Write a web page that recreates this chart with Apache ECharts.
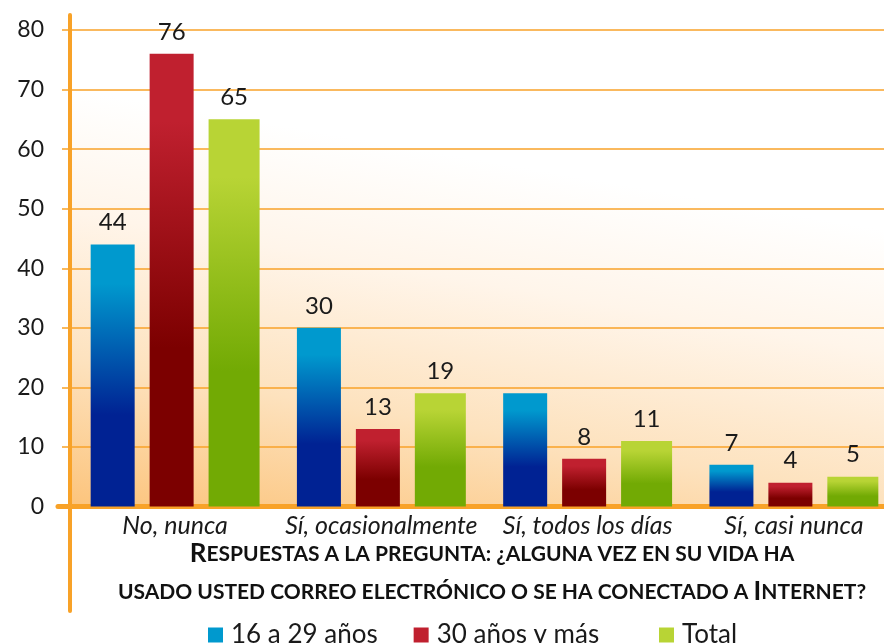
<!DOCTYPE html>
<html>
<head>
<meta charset="utf-8">
<script src="https://cdn.jsdelivr.net/npm/echarts@6/dist/echarts.min.js"></script>
<style>
  html, body { margin: 0; padding: 0; background: #fff; }
  #chart { width: 884px; height: 643px; }
</style>
</head>
<body>
<div id="chart"></div>
<script>
// datos
var categorias = ['No, nunca', 'Sí, ocasionalmente', 'Sí, todos los días', 'Sí, casi nunca'];
var jovenes = [44, 30, 19, 7];      // 16 a 29 años
var mayores = [76, 13, 8, 4];       // 30 años y más
var total = [65, 19, 11, 5];
var yTicks = [0, 10, 20, 30, 40, 50, 60, 70, 80];
var nombres = ['16 a 29 años', '30 años y más', 'Total'];
// la barra azul de "Sí, todos los días" no lleva cifra en el original
var sinEtiqueta = [[0, 2]];

var naranja = '#F8A228';
var fuente = 'Lato';

function degradado(claro, oscuro) {
    return new echarts.graphic.LinearGradient(0, 0, 0, 1, [
        { offset: 0, color: claro },
        { offset: 0.15, color: claro },
        { offset: 0.65, color: oscuro },
        { offset: 1, color: oscuro }
    ]);
}

var colores = [
    { claro: '#0099CE', oscuro: '#002293' },
    { claro: '#C0202F', oscuro: '#7C0000' },
    { claro: '#B8D435', oscuro: '#72AA04' }
];
var anchos = [44, 44, 51];

var chart = echarts.init(document.getElementById('chart'));

var series = [jovenes, mayores, total].map(function (valores, s) {
    return {
        name: nombres[s],
        type: 'bar',
        xAxisIndex: 0,
        yAxisIndex: 0,
        barWidth: anchos[s],
        barGap: '34%',
        itemStyle: { color: degradado(colores[s].claro, colores[s].oscuro) },
        label: {
            show: true,
            position: 'top',
            distance: 10,
            color: '#1a1a1a',
            fontFamily: fuente,
            fontSize: 24
        },
        data: valores.map(function (v, i) {
            var oculto = sinEtiqueta.some(function (p) { return p[0] === s && p[1] === i; });
            return oculto ? { value: v, label: { show: false } } : v;
        })
    };
});

// leyenda en dos partes: el hueco antes de "Total" es mayor en el original
function leyenda(left, desde, hasta) {
    return {
        left: left,
        top: 617,
        icon: 'rect',
        itemWidth: 15,
        itemHeight: 15,
        itemGap: 36,
        textStyle: { color: '#1a1a1a', fontFamily: fuente, fontSize: 26, padding: [0, 0, 0, 3] },
        data: nombres.slice(desde, hasta).map(function (n, k) {
            return { name: n, itemStyle: { color: colores[desde + k].claro } };
        })
    };
}

var option = {
    animation: false,
    grid: [
        {   // gráfico principal (sobresale un poco por la derecha como el original)
            left: 72, width: 825, top: 30, bottom: 136.5,
            outerBoundsMode: 'none',
            show: true,
            borderWidth: 0,
            backgroundColor: new echarts.graphic.LinearGradient(0, 1, 0.1, 0, [
                { offset: 0, color: '#FCC47C' },
                { offset: 0.3, color: '#FDE2BE' },
                { offset: 0.6, color: '#FFF5EA' },
                { offset: 0.85, color: '#FFFFFF' }
            ])
        },
        { left: 70, width: 1, top: 15, bottom: 32, outerBoundsMode: 'none' },       // eje vertical largo
        { left: 58, right: 0, top: 400, bottom: 136.5, outerBoundsMode: 'none' }     // eje horizontal
    ],
    legend: [leyenda(203, 0, 2), leyenda(654, 2, 3)],
    graphic: [{
        type: 'text',
        x: 492,
        y: 535,
        style: {
            text: '{b|R}{s|ESPUESTAS A LA PREGUNTA: ¿ALGUNA VEZ EN SU VIDA HA}\n' +
                  '{s|USADO USTED CORREO ELECTRÓNICO O SE HA CONECTADO A }{b|I}{s|NTERNET?}',
            align: 'center',
            rich: {
                b: { fontFamily: fuente, fontWeight: 'bold', fontSize: 26, fill: '#111', lineHeight: 38 },
                s: { fontFamily: fuente, fontWeight: 'bold', fontSize: 21, fill: '#111', lineHeight: 38 }
            }
        }
    }],
    xAxis: [
        {
            type: 'category',
            gridIndex: 0,
            data: categorias,
            axisLine: { show: false },
            axisTick: { show: false },
            axisLabel: {
                interval: 0,
                margin: 7,
                color: '#1a1a1a',
                fontFamily: fuente,
                fontStyle: 'italic',
                fontSize: 25
            }
        },
        { type: 'value', gridIndex: 1, min: 0, max: 1, show: false },
        {
            type: 'value', gridIndex: 2, min: 0, max: 1,
            axisLine: { show: true, onZero: false, lineStyle: { color: naranja, width: 5 } },
            axisTick: { show: false },
            axisLabel: { show: false },
            splitLine: { show: false }
        }
    ],
    yAxis: [
        {
            type: 'value',
            gridIndex: 0,
            min: yTicks[0],
            max: yTicks[yTicks.length - 1],
            interval: 10,
            axisLine: { show: false },
            axisTick: { show: true, length: 10, lineStyle: { color: naranja, width: 1.5 } },
            axisLabel: {
                margin: 28,
                color: '#1a1a1a',
                fontFamily: fuente,
                fontSize: 23
            },
            splitLine: { show: true, lineStyle: { color: naranja, width: 1.5 } }
        },
        {
            type: 'value', gridIndex: 1, min: 0, max: 1,
            axisLine: { show: true, lineStyle: { color: naranja, width: 4 } },
            axisTick: { show: false },
            axisLabel: { show: false },
            splitLine: { show: false }
        },
        { type: 'value', gridIndex: 2, min: 0, max: 1, show: false }
    ],
    series: series
};

chart.setOption(option);
</script>
</body>
</html>
